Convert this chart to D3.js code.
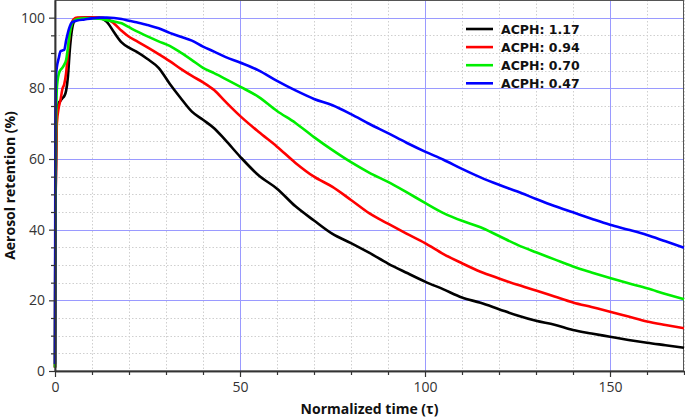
<!DOCTYPE html>
<html><head><meta charset="utf-8">
<script src="https://cdn.jsdelivr.net/npm/d3@7"></script>
<style>body{margin:0;background:#fff}svg{display:block}</style>
</head><body><svg id="c" width="685" height="420"></svg>
<script>
const time = [0,0.1,0.3,0.5,1,1.5,2,2.5,3,3.5,4,4.5,5,6,8,10,12,14,16,18,20,22,25,28,31,34,37,40,43,46,50,55,60,65,70,75,80,85,90,95,100,105,110,115,120,125,130,135,140,145,150,155,160,165,170];
const acph117 = [1,40,60,73,75.8,76.5,77.2,77.8,79.3,83.4,90.9,96,98.6,99.8,100,100,99.9,98.8,95.8,93,91.5,90.4,88.3,85.8,81.3,77.2,73.4,71.1,68.7,65.4,60.7,55.4,51.6,46.6,42.6,38.8,36.2,33.4,30.4,27.8,25.3,23.1,20.8,19.3,17.5,15.7,14.2,13.1,11.6,10.6,9.7,8.8,8.0,7.3,6.6];
const acph094 = [1,40,58,70,74.5,76.8,79.8,81.2,84.3,90,95.6,98.3,99.5,100,100,100,100,99.7,98.3,96.3,94.6,93.4,91.6,89.7,87.7,85.5,83.5,81.7,79.5,76.3,72.2,67.7,63.5,58.9,55.0,52.1,48.4,44.6,41.7,38.9,36.2,33.1,30.5,28.1,26.2,24.4,22.8,21.1,19.4,18.1,16.8,15.4,14.0,13.0,12.1];
const acph070 = [1,43,70,80,84,85.2,85.8,86.7,88,91.5,95.6,98,99,99.6,99.8,99.8,99.7,99.3,98.9,98.4,97.3,96.2,94.7,93.3,92.0,90.1,88.0,85.8,84.3,82.7,80.5,77.6,73.6,70.2,66.2,62.5,59.1,56.1,53.5,50.6,47.6,44.7,42.5,40.7,38.2,35.7,33.6,31.6,29.6,27.9,26.3,24.8,23.4,21.8,20.3];
const acph047 = [2,70,84,86,88.5,90.5,90.7,90.9,93.5,95.8,97.5,98.6,98.9,99.2,99.5,99.8,100,100,99.9,99.6,99.1,98.7,97.9,97.0,95.7,94.6,93.5,91.8,90.4,88.9,87.3,85.1,82.1,79.4,77.0,75.2,72.7,69.9,67.3,64.6,62.1,59.8,57.2,54.8,52.7,50.8,48.7,46.7,44.9,43.1,41.4,40.0,38.5,36.7,34.9];
const seriesNames = ["ACPH: 1.17","ACPH: 0.94","ACPH: 0.70","ACPH: 0.47"];
const seriesValues = [acph117, acph094, acph070, acph047];
const seriesColors = ["#000000","#ff0000","#00ee00","#0000ff"];
const xTicks = [0,50,100,150];
const yTicks = [0,20,40,60,80,100];
const xLabel = "Normalized time (τ)";
const yLabel = "Aerosol retention (%)";

const W = 685, H = 420;
const m = {left:55, right:1, top:0, bottom:49};
const svg = d3.select("#c");
const x = d3.scaleLinear().domain([0,170]).range([m.left, W - m.right]);
const y = d3.scaleLinear().domain([0,105]).range([H - m.bottom, m.top]);
const font = "'Open Sans', 'DejaVu Sans', sans-serif";
const legendFont = "'DejaVu Sans', sans-serif";

const g = svg.append("g");
// minor grid
const xMinor = d3.range(10,171,10).filter(v => v % 50 !== 0);
const yMinor = d3.range(5,105,5).filter(v => v % 20 !== 0);
g.selectAll(".mx").data(xMinor).join("line")
  .attr("x1", d => Math.round(x(d))+0.5).attr("x2", d => Math.round(x(d))+0.5)
  .attr("y1", y(105)).attr("y2", y(0))
  .attr("stroke", "#cfcfcf").attr("stroke-width", 1).attr("stroke-dasharray", "1.5,2");
g.selectAll(".my").data(yMinor).join("line")
  .attr("y1", d => Math.round(y(d))+0.5).attr("y2", d => Math.round(y(d))+0.5)
  .attr("x1", x(0)).attr("x2", x(170))
  .attr("stroke", "#cfcfcf").attr("stroke-width", 1).attr("stroke-dasharray", "1.5,2");
// major grid
g.selectAll(".gx").data(xTicks.filter(d => d > 0)).join("line")
  .attr("x1", d => Math.round(x(d))+0.5).attr("x2", d => Math.round(x(d))+0.5)
  .attr("y1", y(105)).attr("y2", y(0))
  .attr("stroke", "#9a9aff").attr("stroke-width", 1);
g.selectAll(".gy").data(yTicks.filter(d => d > 0)).join("line")
  .attr("y1", d => Math.round(y(d))+0.5).attr("y2", d => Math.round(y(d))+0.5)
  .attr("x1", x(0)).attr("x2", x(170))
  .attr("stroke", "#9a9aff").attr("stroke-width", 1);

// frame (top/right)
svg.append("rect").attr("x", x(0)).attr("y", 0.5).attr("width", x(170)-x(0)-0.5).attr("height", y(0)-0.5)
  .attr("fill", "none").attr("stroke", "#555").attr("stroke-width", 1);

// curves
const line = d3.line().x((d,i) => x(time[i])).y(d => y(d)).curve(d3.curveMonotoneX);
const cg = svg.append("g");
seriesValues.forEach((vals, k) => {
  cg.append("path").datum(vals).attr("d", line)
    .attr("fill", "none").attr("stroke", seriesColors[k]).attr("stroke-width", 2.6)
    .attr("stroke-linejoin", "round");
});

// axes
const xAxis = d3.axisBottom(x).tickValues(xTicks).tickSize(6).tickSizeOuter(0).tickPadding(5);
const xAxisMinor = d3.axisBottom(x).tickValues(xMinor).tickSize(4).tickFormat("").tickSizeOuter(0);
const yAxis = d3.axisLeft(y).tickValues(yTicks).tickSize(6).tickSizeOuter(0).tickPadding(4);
const yAxisMinor = d3.axisLeft(y).tickValues(yMinor).tickSize(4).tickFormat("").tickSizeOuter(0);

function styleAxis(sel){
  sel.select(".domain").attr("stroke", "#333").attr("stroke-width", 1.5);
  sel.selectAll(".tick line").attr("stroke", "#333").attr("stroke-width", 1.2);
  sel.selectAll(".tick text").attr("fill", "#333").style("font-family", font).style("font-size", "14px");
}
svg.append("g").attr("transform", `translate(0,${y(0)})`).call(xAxisMinor).call(styleAxis);
svg.append("g").attr("transform", `translate(0,${y(0)})`).call(xAxis).call(styleAxis);
svg.append("g").attr("transform", `translate(${x(0)},0)`).call(yAxisMinor).call(styleAxis);
svg.append("g").attr("transform", `translate(${x(0)},0)`).call(yAxis).call(styleAxis);

// axis titles
svg.append("text").attr("x", (x(0)+x(170))/2).attr("y", 414)
  .attr("text-anchor", "middle").attr("fill", "#111")
  .style("font-family", font).style("font-weight", "bold").style("font-size", "14px")
  .text(xLabel);
svg.append("text").attr("transform", `translate(14.5,${y(0)/2}) rotate(-90)`)
  .attr("text-anchor", "middle").attr("fill", "#111")
  .style("font-family", font).style("font-weight", "bold").style("font-size", "14px")
  .text(yLabel);

// legend
const lg = svg.append("g").attr("transform", "translate(466,29)");
seriesNames.forEach((name, k) => {
  const row = lg.append("g").attr("transform", `translate(0,${k*18.1})`);
  row.append("line").attr("x1", 0).attr("x2", 27).attr("y1", 0).attr("y2", 0)
    .attr("stroke", seriesColors[k]).attr("stroke-width", 2.6);
  row.append("text").attr("x", 35).attr("y", 4.6).attr("fill", "#111")
    .style("font-family", legendFont).style("font-weight", "bold").style("font-size", "12.5px")
    .text(name);
});
</script>
</body></html>
